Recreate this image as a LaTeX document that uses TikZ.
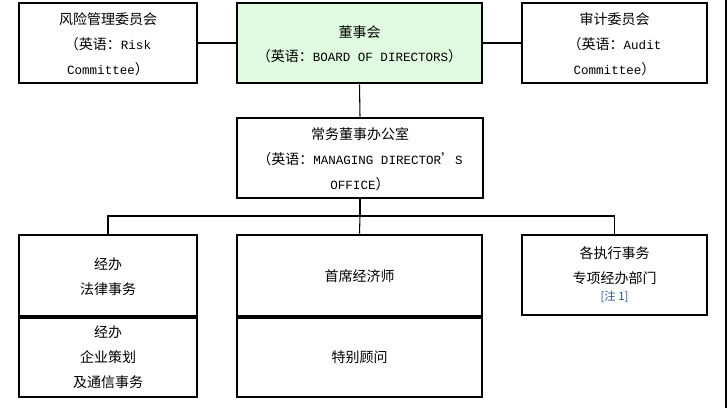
\documentclass[tikz,border=0pt]{standalone}
\usepackage{fontspec}
\newfontfamily\cjk{Noto Sans CJK SC}
\newfontfamily\latm{Liberation Mono}
\newcommand\latx[1]{{\latm\fontsize{9.4pt}{18.75pt}\selectfont #1}}
\usetikzlibrary{fit}
\definecolor{boardgreen}{RGB}{223,250,223}
\definecolor{noteblue}{RGB}{40,85,150}
\begin{document}
\begin{tikzpicture}[x=0.75pt,y=-0.75pt,
  box/.style={draw=black, line width=1.9pt, inner sep=0pt},
  txt/.style={inner sep=0pt, align=center, yshift=-0.75pt,
    font=\cjk\fontsize{10.5pt}{18.75pt}\selectfont, text=black},
  conn/.style={draw=black, line width=0.8pt},
  sep/.style={draw=black, line width=3pt}]
\useasboundingbox (0,0) rectangle (728,408);
% top row
\node[box, fit={(19,3) (197,83)}] (risk) {};
\node[box, fill=boardgreen, fit={(237,3) (482,83)}] (board) {};
\node[box, fit={(522,3) (707,83)}] (audit) {};
\node[txt] (riskT) at (risk.center) {风险管理委员会\\（英语：\latx{Risk}\\\latx{Committee}）};
\node[txt] (boardT) at (board.center) {董事会\\[-0.75pt]（英语：\latx{BOARD OF DIRECTORS}）};
\node[txt] (auditT) at (audit.center) {审计委员会\\（英语：\latx{Audit}\\\latx{Committee}）};
% office
\node[box, fit={(237,118) (483,198)}] (office) {};
\node[txt] (officeT) at (office.center) {常务董事办公室\\（英语：\latx{MANAGING DIRECTOR}’\latx{S}\\\latx{OFFICE}）};
% bottom row
\node[box, fit={(19,235) (197,316)}] (legal) {};
\node[box, fit={(19,316) (197,397)}] (corp) {};
\node[box, fit={(237,235) (482,316)}] (econ) {};
\node[box, fit={(237,316) (482,397)}] (advisor) {};
\node[box, fit={(522,235) (707,315)}] (dept) {};
\node[txt] (legalT) at (legal.center) {经办\\法律事务};
\node[txt] (corpT) at (corp.center) {经办\\企业策划\\及通信事务};
\node[txt] (econT) at (econ.center) {首席经济师};
\node[txt] (advisorT) at (advisor.center) {特别顾问};
\node[txt, yshift=0.75pt] (deptT) at (dept.center) {各执行事务\\专项经办部门\\[-6pt]{\color{noteblue}\fontsize{8.5pt}{12pt}\selectfont [注 1]}};
\draw[sep] (legal.south west) -- (legal.south east);
\draw[sep] (econ.south west) -- (econ.south east);
% connectors
\coordinate (bus) at (360,216);
\draw[conn] (risk.east) -- (board.west);
\draw[conn] (board.east) -- (audit.west);
\draw[conn] (board.south) -- (office.north);
\draw[conn] (office.south) -- (bus);
\draw[conn] (legal.north) |- (bus) -| (dept.north);
\draw[conn] (bus) -- (econ.north);
% right border line
\coordinate (edgeT) at (726,0);
\coordinate (edgeB) at (726,408);
\draw[line width=2pt] (edgeT) -- (edgeB);
\end{tikzpicture}
\end{document}
